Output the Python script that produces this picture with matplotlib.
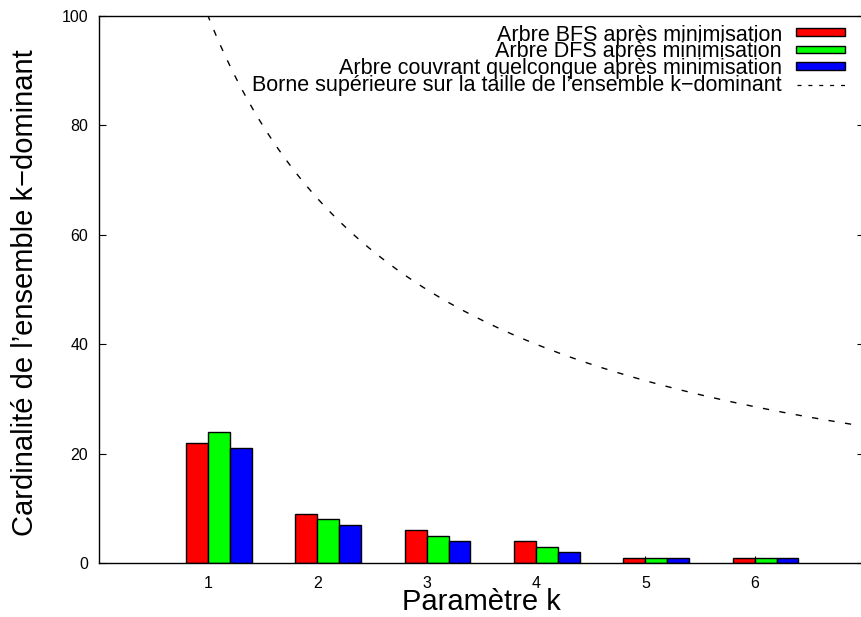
import numpy as np
import matplotlib
matplotlib.use("Agg")
import matplotlib.pyplot as plt
from matplotlib.patches import Rectangle
from matplotlib.lines import Line2D

plt.rcParams['font.family'] = ['Liberation Sans', 'DejaVu Sans']

# data
k_values = [1, 2, 3, 4, 5, 6]
bfs = [22, 9, 6, 4, 1, 1]
dfs = [24, 8, 5, 3, 1, 1]
quelconque = [21, 7, 4, 2, 1, 1]
n_nodes = 200  # borne n/(k+1)

labels = ["Arbre BFS après minimisation",
          "Arbre DFS après minimisation",
          "Arbre couvrant quelconque après minimisation",
          "Borne supérieure sur la taille de l’ensemble k−dominant"]
colors = ["#ff0000", "#00ff00", "#0000ff"]

W, H = 862, 617
fig = plt.figure(figsize=(W / 100, H / 100), dpi=100)
ax = fig.add_axes([98.7 / W, (H - 563) / H, (864 - 98.7) / W, (563 - 16) / H])

k = np.array(k_values)
bw = 0.2
for i, (vals, c) in enumerate(zip([bfs, dfs, quelconque], colors)):
    ax.bar(k - bw + i * bw, vals, width=bw, align='edge', color=c,
           edgecolor='black', linewidth=1.0, zorder=2)

xs = np.linspace(0, 7, 600)
ax.plot(xs, n_nodes / (xs + 1), color='black', lw=1.0, dashes=(4.5, 7.5), zorder=3)

ax.set_xlim(0, 7)
ax.set_ylim(0, 100)
ax.set_xticks(k_values)
ax.set_yticks([0, 20, 40, 60, 80, 100])
ax.tick_params(axis='y', direction='in', length=5, width=0.8, labelsize=11.5,
               pad=7.5, right=True, left=True)
ax.tick_params(axis='x', direction='in', length=5, width=0.8, labelsize=11.5,
               pad=9, top=False)
for s in ax.spines.values():
    s.set_linewidth(1.0)
ax.spines['right'].set_visible(False)

def fx(px):
    return px / W

def fy(py):
    return (H - py) / H

fig.text(fx(481), fy(610), "Paramètre k", fontsize=21, ha='center', va='baseline')
fig.text(fx(33), fy(293), "Cardinalité de l’ensemble k−dominant", fontsize=21,
         rotation=90, rotation_mode='anchor', ha='center', va='baseline')

# legend, gnuplot style
baselines = [41, 57.5, 74, 90.5]
box_centers = [32, 49.5, 66, 85]
for i, lab in enumerate(labels):
    fig.text(fx(782), fy(baselines[i]), lab, fontsize=15.5, ha='right', va='baseline')
    if i < 3:
        fig.patches.append(Rectangle((fx(796), fy(box_centers[i] + 3.7)),
                                     fx(49), 7.4 / H, transform=fig.transFigure,
                                     facecolor=colors[i], edgecolor='black', lw=1.0))
    else:
        fig.lines.append(Line2D([fx(797), fx(845)], [fy(box_centers[i])] * 2,
                                transform=fig.transFigure, color='black', lw=0.9,
                                dashes=(3.2, 5.5)))

fig.savefig("out.png", dpi=100)
